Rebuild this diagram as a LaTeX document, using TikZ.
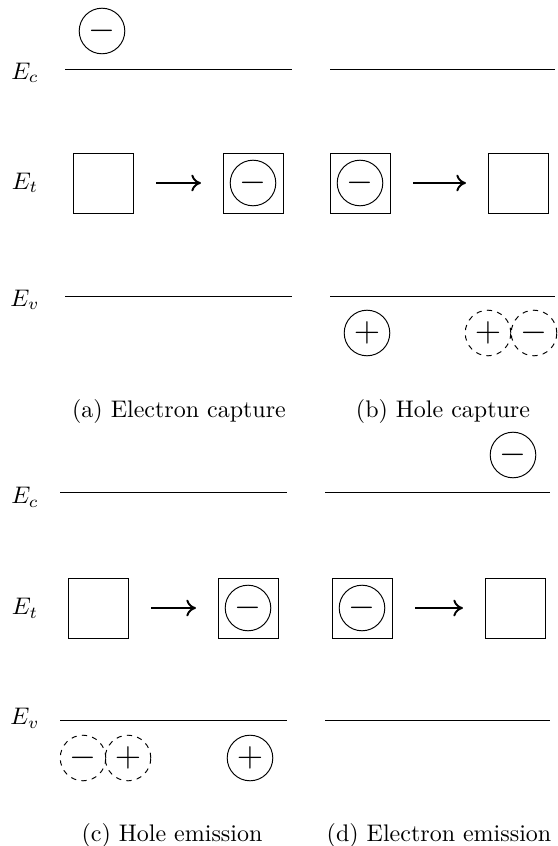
\documentclass[tikz,border=0pt]{standalone}
\usepackage{amsmath, amssymb}
\usepackage{xcolor}
\usetikzlibrary{arrows.meta}

\tikzset{
  level/.style={line width=0.4pt},
  trap/.style={draw, minimum size=25pt, inner sep=0pt, line width=0.4pt},
  carrier/.style={draw, circle, minimum size=19pt, inner sep=0pt, font=\fontsize{15}{18}\selectfont, line width=0.4pt},
  virtual/.style={carrier, dash pattern=on 2.2pt off 2.2pt},
  transition/.style={-{Computer Modern Rightarrow[length=4pt, width=7pt]}, line width=0.8pt, shorten <=9.5pt, shorten >=9pt},
  caption/.style={font=\normalsize}
}

\begin{document}
\begin{tikzpicture}[x=0.4167pt, y=-0.4167pt]
    \useasboundingbox (0,0) rectangle (557,846);
    % (a) electron capture
    \node (Eca) at (25,73) {$E_c$};
    \node (Eta) at (25,183) {$E_t$};
    \node (Eva) at (25,300) {$E_v$};
    \draw[level] (65,69) coordinate (ca1) -- (292,69) coordinate (ca2);
    \draw[level] (65,296) coordinate (va1) -- (292,296) coordinate (va2);
    \node[carrier] (ea) at (102,31) {$-$};
    \node[trap] (ta1) at (103,183) {};
    \node[trap] (ta2) at (253,183) {};
    \node[carrier] (ea2) at (ta2) {$-$};
    \draw[transition] (ta1) -- (ta2);
    \node[caption] (capa) at (179,411) {(a) Electron capture};
    % (b) hole capture
    \draw[level] (330,69) coordinate (cb1) -- (555,69) coordinate (cb2);
    \draw[level] (330,296) coordinate (vb1) -- (555,296) coordinate (vb2);
    \node[trap] (tb1) at (360,183) {};
    \node[carrier] (eb) at (tb1) {$-$};
    \node[trap] (tb2) at (518,183) {};
    \draw[transition] (tb1) -- (tb2);
    \node[carrier] (hb) at (367,333) {$+$};
    \node[virtual] (hb2) at (488,333) {$+$};
    \node[virtual] (eb2) at (534,333) {$-$};
    \node[caption] (capb) at (443,411) {(b) Hole capture};
    % (c) hole emission
    \node (Ecc) at (25,497) {$E_c$};
    \node (Etc) at (25,608) {$E_t$};
    \node (Evc) at (25,718) {$E_v$};
    \draw[level] (60,492) coordinate (cc1) -- (287,492) coordinate (cc2);
    \draw[level] (60,720) coordinate (vc1) -- (287,720) coordinate (vc2);
    \node[trap] (tc1) at (98,608) {};
    \node[trap] (tc2) at (248,608) {};
    \node[carrier] (ec) at (tc2) {$-$};
    \draw[transition] (tc1) -- (tc2);
    \node[virtual] (ec2) at (83,758) {$-$};
    \node[virtual] (hc2) at (128,758) {$+$};
    \node[carrier] (hc) at (250,758) {$+$};
    \node[caption] (capc) at (172,835) {(c) Hole emission};
    % (d) electron emission
    \draw[level] (325,492) coordinate (cd1) -- (550,492) coordinate (cd2);
    \draw[level] (325,720) coordinate (vd1) -- (550,720) coordinate (vd2);
    \node[carrier] (ed) at (513,455) {$-$};
    \node[trap] (td1) at (362,608) {};
    \node[carrier] (ed2) at (td1) {$-$};
    \node[trap] (td2) at (515,608) {};
    \draw[transition] (td1) -- (td2);
    \node[caption] (capd) at (439,835) {(d) Electron emission};
\end{tikzpicture}
\end{document}
